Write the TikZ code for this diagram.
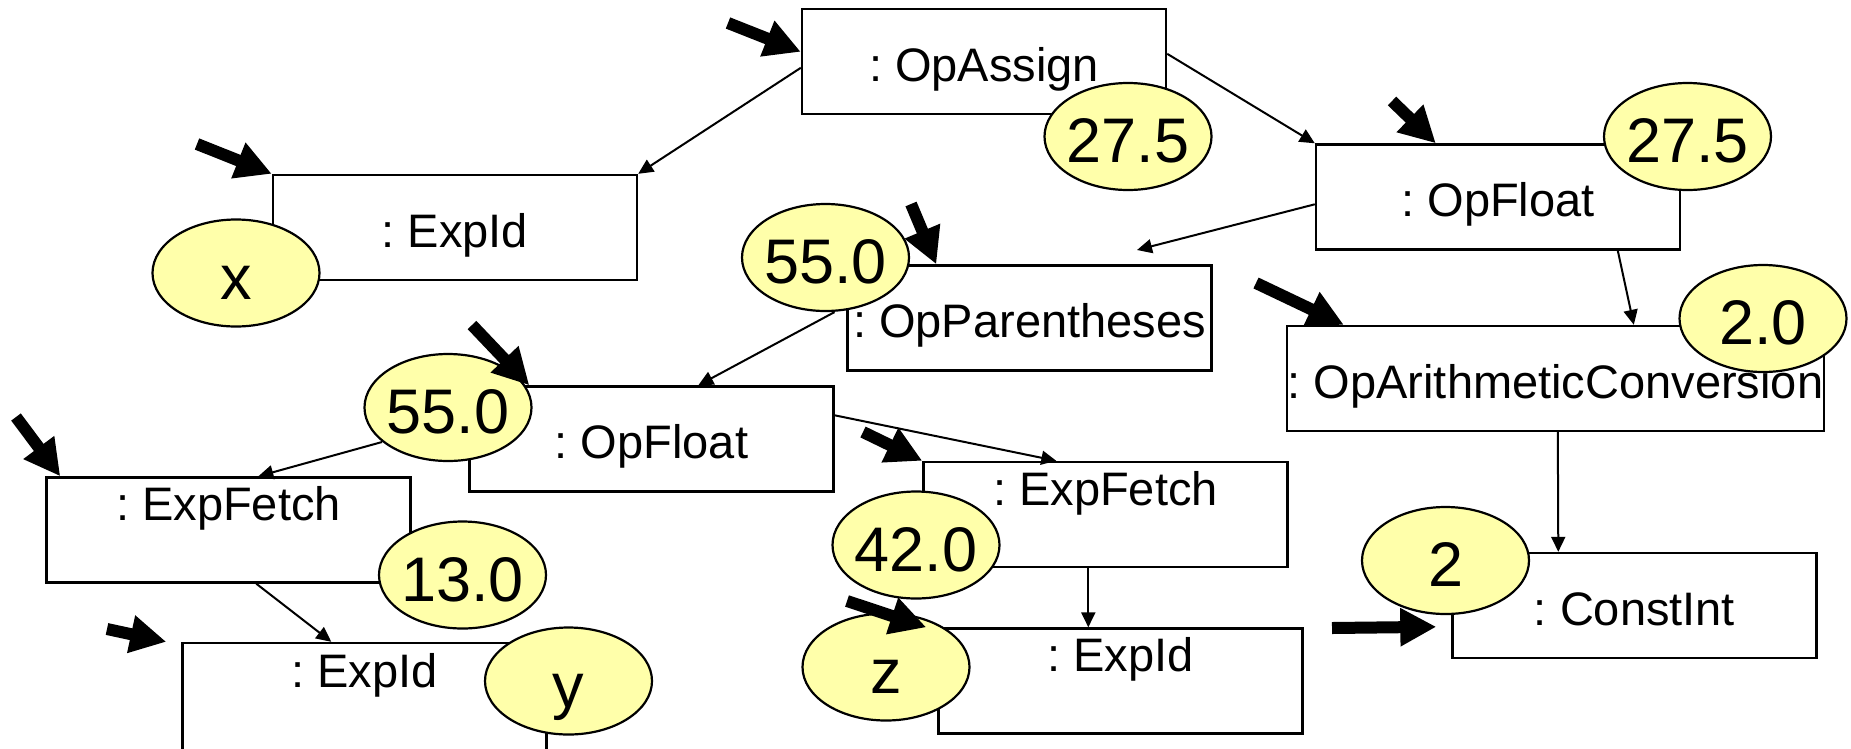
\documentclass[tikz,border=0pt]{standalone}
\usepackage{fontspec}
\setmainfont{Liberation Sans}
\usetikzlibrary{arrows.meta,shapes.geometric,calc}
\definecolor{valfill}{RGB}{255,255,170}
\pgfdeclarelayer{paper}
\pgfdeclarelayer{boxes}
\pgfdeclarelayer{links}
\pgfsetlayers{paper,boxes,links,main}
\tikzset{
  obj/.style={draw=black, line width=2.4pt, fill=white, rectangle, inner sep=0pt,
    minimum width=364pt, minimum height=105pt, font=\fontsize{47}{50}\selectfont},
  objc/.style={obj, text height=39pt, text depth=0pt},
  objt/.style={obj, text height=0pt, text depth=19pt},
  val/.style={draw=black, line width=2.2pt, fill=valfill, ellipse, inner sep=0pt,
    minimum width=167pt, minimum height=107pt},
  valtext/.style={anchor=base, inner sep=0pt, font=\fontsize{63}{65}\selectfont},
  link/.style={line width=2pt, -{Triangle[length=15pt,width=14pt]}},
  pointer/.style={line width=12pt, -{Triangle[length=36pt,width=36pt]}},
}
\newcommand\valnode[3]{%
  \node[val] (#1) at (#2) {};
  \node[valtext] (#1t) at ([yshift=-26pt]#1.center) {#3};}
\begin{document}
\frenchspacing
\begin{tikzpicture}[x=1pt,y=-1pt]
\begin{pgfonlayer}{paper}
\fill[white] (0,0) rectangle (1851,748);
\end{pgfonlayer}
\useasboundingbox (0,0) rectangle (1851,748);

% object boxes
\begin{pgfonlayer}{boxes}
\node[objc] (opassign)  at (984,61.5)    {: OpAssign};
\node[objc] (expidx)    at (455,227.5)   {: ExpId};
\node[objc] (opfloat)   at (1498,197)    {: OpFloat};
\node[objc] (opparen)   at (1029.5,318)  {: OpParentheses};
\node[objc, minimum width=537pt] (oparith) at (1555.5,378.5) {: OpArithmeticConversion};
\node[objc] (opfloatm)  at (651.5,439)   {: OpFloat};
\node[objt] (expfetchl) at (228.5,530)   {: ExpFetch};
\node[objt] (expfetchm) at (1105.5,514.5) {: ExpFetch};
\node[objt, minimum height=115pt, text depth=27pt] (expidy) at (364.5,700.5) {: ExpId};
\node[objt] (expidz)    at (1120.5,681)  {: ExpId};
\node[objc] (constint)  at (1634.5,605.5) {: ConstInt};
\end{pgfonlayer}

% values
\valnode{e1}{236,273}{x}
\valnode{e2}{1128,136.5}{27.5}
\valnode{e3}{1687.5,136.5}{27.5}
\valnode{e4}{825.5,257.5}{55.0}
\valnode{e5}{1763,318.5}{2.0}
\valnode{e6}{448,407.5}{55.0}
\valnode{e7}{462.5,575}{13.0}
\valnode{e8}{568.5,681}{y}
\valnode{e9}{916,545}{42.0}
\valnode{e10}{886,667}{z}
\valnode{e11}{1445.5,560.5}{2}

% tree links
\begin{pgfonlayer}{links}
\coordinate (parenin) at (1137,250);
\draw[link] ($(opassign.north west)+(0,60)$) -- (expidx.north east);
\draw[link] ($(opassign.north east)+(0,46)$) -- (opfloat.north west);
\draw[link] ($(opfloat.north west)+(0,61)$) -- (parenin);
\draw[link] ($(opfloat.south west)+(303,0)$) -- ($(oparith.north west)+(348,0)$);
\draw[link] ($(e4.south)+(9,0)$) -- ($(opfloatm.north west)+(230,0)$);
\draw[link] ($(e6.center)+(-66,34.5)$) -- ($(expfetchl.north west)+(213,0)$);
\draw[link] ($(opfloatm.north east)+(0,30)$) -- ($(expfetchm.north west)+(134,0)$);
\draw[link] ($(expfetchl.south west)+(211,0)$) -- ($(expidy.north west)+(150,0)$);
\draw[link] ($(expfetchm.south west)+(166,0)$) -- ($(expidz.north west)+(151,0)$);
\draw[link] ($(oparith.south west)+(272,0)$) -- ($(constint.north west)+(107,0)$);
\end{pgfonlayer}

% evaluation pointers
\coordinate (p1) at (728,23);
\coordinate (p2) at (197,144);
\coordinate (p3) at (1392,101);
\coordinate (p4) at (911,204);
\coordinate (p5) at (1256,283);
\coordinate (p6) at (472,325);
\coordinate (p7) at (16,417);
\coordinate (p8) at (107,629);
\coordinate (p9) at (863,432);
\coordinate (p10) at (847,601);
\coordinate (p11) at (1332,628);
\draw[pointer] (p1) -- ($(opassign.north west)+(0,44)$);
\draw[pointer] (p2) -- (expidx.north west);
\draw[pointer] (p3) -- ($(opfloat.north west)+(121,0)$);
\draw[pointer] (p4) -- ($(opparen.north west)+(90,0)$);
\draw[pointer] (p5) -- ($(oparith.north west)+(58,0)$);
\draw[pointer] (p6) -- ($(opfloatm.north west)+(61,0)$);
\draw[pointer] (p7) -- ($(expfetchl.north west)+(15,0)$);
\draw[pointer] (p8) -- ($(expidy.north west)+(-15,0)$);
\draw[pointer] (p9) -- (expfetchm.north west);
\draw[pointer] (p10) -- ($(expidz.north west)+(-11,0)$);
\draw[pointer] (p11) -- ($(constint.north west)+(-15,75)$);
\end{tikzpicture}
\end{document}
